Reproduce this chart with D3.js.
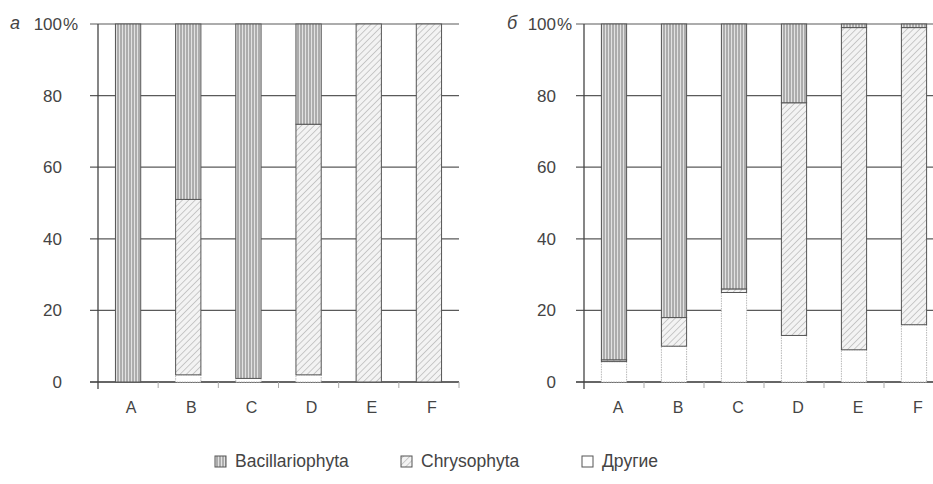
<!DOCTYPE html>
<html><head><meta charset="utf-8">
<script src="https://cdn.jsdelivr.net/npm/d3@7"></script>
<style>body{margin:0;background:#fff}svg{display:block}</style>
</head><body>
<svg id="c" width="933" height="484"></svg>
<script>
const categories = ['A','B','C','D','E','F'];
const yTicks = [0,20,40,60,80,100];
const seriesNames = ['Bacillariophyta','Chrysophyta','Другие'];
// panel а (values in %)
const aOther = [0, 2, 1, 2, 0, 0];
const aChrys = [0, 49, 0, 70, 100, 100];
const aBac   = [100, 49, 99, 28, 0, 0];
// panel б
const bOther = [5.7, 10, 25, 13, 9, 16];
const bChrys = [0.5, 8, 1, 65, 90, 83];
const bBac   = [93.8, 82, 74, 22, 1, 1];
const panelLabels = ['а','б'];

const svg = d3.select('#c');
const defs = svg.append('defs');
const pv = defs.append('pattern').attr('id','pBac').attr('patternUnits','userSpaceOnUse').attr('width',3).attr('height',4);
pv.append('rect').attr('width',3).attr('height',4).attr('fill','#e2e2e2');
pv.append('line').attr('x1',1).attr('x2',1).attr('y1',0).attr('y2',4).attr('stroke','#777').attr('stroke-width',1);
const pd = defs.append('pattern').attr('id','pChr').attr('patternUnits','userSpaceOnUse').attr('width',4.5).attr('height',6).attr('patternTransform','rotate(45)');
pd.append('rect').attr('width',4.5).attr('height',6).attr('fill','#f3f3f3');
pd.append('line').attr('x1',0).attr('x2',0).attr('y1',0).attr('y2',6).attr('stroke','#8f8f8f').attr('stroke-width',0.9);

const font = '"Liberation Sans", Arial, sans-serif';
const txt = '#444';

function panel(opt){
  const {x0,x1,yTop,yBot,other,chrys,bac,label,labelX,numRight,pct,gridLeft,xLabShift} = opt;
  const g = svg.append('g');
  const x = d3.scaleBand().domain(categories).range([x0, x1]).paddingInner(0.58).paddingOuter(0.29);
  const xb = d3.scaleBand().domain(categories).range([x0, x1]);
  const y = d3.scaleLinear().domain([0,100]).range([yBot, yTop]);
  g.selectAll('.grid').data(yTicks).enter().append('line')
    .attr('x1', gridLeft).attr('x2', Math.min(x1, 933)).attr('y1', d=>y(d)).attr('y2', d=>y(d))
    .attr('stroke', d=> d===0 ? '#333' : '#5a5a5a').attr('stroke-width', d=> d===0?1.4:1.2);
  g.append('line').attr('x1',x0).attr('x2',x0).attr('y1',yTop).attr('y2',yBot+7).attr('stroke','#444').attr('stroke-width',1.3);
  const bounds = categories.map(c=>xb(c)).concat([x1]).slice(1);
  g.selectAll('.xt').data(bounds.filter(v=>v<=933)).enter().append('line')
    .attr('x1',d=>d).attr('x2',d=>d).attr('y1',yBot).attr('y2',yBot+6).attr('stroke','#aaa').attr('stroke-width',1);
  const rows = categories.map((c,i)=>({c, other:other[i], chrys:chrys[i], bac:bac[i]}));
  const stack = d3.stack().keys(['other','chrys','bac'])(rows);
  const fills = {other:'#ffffff', chrys:'url(#pChr)', bac:'url(#pBac)'};
  const strokes = {other:'#b8b8b8', chrys:'#555', bac:'#555'};
  stack.forEach(layer=>{
    g.selectAll('.b'+layer.key).data(layer.filter(d=>d[1]-d[0]>0)).enter().append('rect')
      .attr('x', d=>x(d.data.c)).attr('width', x.bandwidth())
      .attr('y', d=>y(d[1])).attr('height', d=>y(d[0])-y(d[1]))
      .attr('fill', fills[layer.key]).attr('stroke', strokes[layer.key])
      .attr('stroke-width', 1).attr('stroke-dasharray', layer.key==='other' ? '1.5,1' : null);
  });
  g.selectAll('.yl').data(yTicks).enter().append('text')
    .attr('x', numRight).attr('y', d=>y(d)+6).attr('text-anchor','end')
    .attr('font-family',font).attr('font-size',17).attr('fill',txt).text(d=>d);
  g.append('text').attr('x',numRight+1).attr('y',y(100)+6).attr('font-family',font).attr('font-size',17).attr('fill',txt).text(pct);
  g.append('text').attr('x',labelX).attr('y',y(100)+5).attr('font-family',font).attr('font-style','italic').attr('font-size',18).attr('fill',txt).text(label);
  g.selectAll('.xl').data(categories).enter().append('text')
    .attr('x', c=>x(c)+x.bandwidth()/2+xLabShift).attr('y', yBot+31).attr('text-anchor','middle')
    .attr('font-family',font).attr('font-size',16).attr('fill',txt).text(c=>c);
}

panel({x0:98, x1:459, yTop:24, yBot:382, other:aOther, chrys:aChrys, bac:aBac, label:panelLabels[0], labelX:10, numRight:62, pct:'%', gridLeft:90, xLabShift:3});
panel({x0:584, x1:944, yTop:24, yBot:382, other:bOther, chrys:bChrys, bac:bBac, label:panelLabels[1], labelX:507, numRight:556, pct:' %', gridLeft:576, xLabShift:4});

// legend
const legX = [215, 401, 582];
const legFill = ['url(#pBac)','url(#pChr)','#fff'];
const lg = svg.append('g');
seriesNames.forEach((n,i)=>{
  lg.append('rect').attr('x',legX[i]).attr('y',456).attr('width',11).attr('height',11)
    .attr('fill',legFill[i]).attr('stroke','#555').attr('stroke-width',1);
  lg.append('text').attr('x',legX[i]+20).attr('y',467).attr('font-family',font).attr('font-size',17.5).attr('fill',txt).text(n);
});
</script>
</body></html>
